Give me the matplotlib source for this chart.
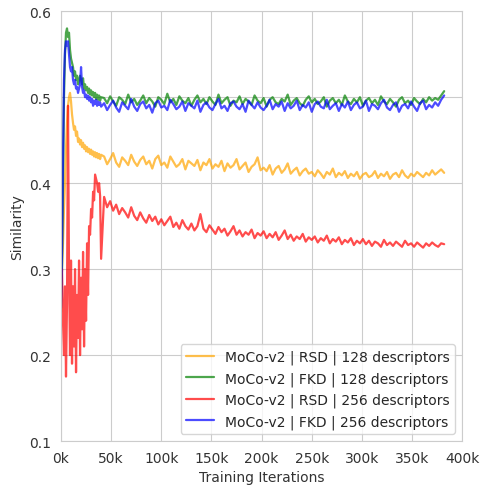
import matplotlib
matplotlib.use("Agg")
import matplotlib.pyplot as plt
import seaborn as sns
from matplotlib.ticker import FuncFormatter, MultipleLocator

# iterations in thousands
iters_k = list(range(0, 41)) + list(range(43, 383, 3))

rsd_128 = [0.27, 0.30, 0.33, 0.37, 0.40, 0.44, 0.47, 0.49, 0.50, 0.505,
           0.495, 0.48, 0.47, 0.462, 0.466, 0.455, 0.46, 0.448, 0.452, 0.445,
           0.45, 0.442, 0.447, 0.44, 0.444, 0.437, 0.442, 0.436, 0.44, 0.434,
           0.439, 0.433, 0.437, 0.431, 0.436, 0.43, 0.435, 0.429, 0.434, 0.428, 0.433,
           0.431, 0.422, 0.428, 0.435, 0.424, 0.419, 0.430, 0.426, 0.421, 0.433,
           0.425, 0.420, 0.427, 0.431, 0.422, 0.426, 0.417, 0.428, 0.432,
           0.421, 0.424, 0.418, 0.431, 0.425, 0.419, 0.422, 0.428, 0.416, 0.426,
           0.423, 0.420, 0.427, 0.415, 0.424, 0.421, 0.428,
           0.417, 0.422, 0.419, 0.426, 0.414, 0.423, 0.418, 0.421, 0.428, 0.416,
           0.420, 0.424, 0.413, 0.419, 0.422, 0.430, 0.415,
           0.418, 0.414, 0.421, 0.410, 0.417, 0.420, 0.412, 0.416, 0.423, 0.411,
           0.415, 0.418, 0.409, 0.414, 0.417, 0.411, 0.413,
           0.408, 0.415, 0.411, 0.406, 0.413, 0.410, 0.417, 0.407, 0.412, 0.409,
           0.414, 0.406, 0.411, 0.408, 0.413, 0.405, 0.410,
           0.412, 0.407, 0.409, 0.414, 0.406, 0.411, 0.408, 0.413, 0.405, 0.410,
           0.412, 0.407, 0.415, 0.409, 0.406, 0.411, 0.408, 0.413, 0.410, 0.407,
           0.412, 0.409, 0.415, 0.410, 0.413, 0.416, 0.412]

fkd_128 = [0.25, 0.30, 0.40, 0.50, 0.55, 0.575, 0.58, 0.57, 0.575, 0.555,
           0.545, 0.54, 0.535, 0.525, 0.53, 0.52, 0.525, 0.515, 0.52, 0.525,
           0.52, 0.515, 0.522, 0.51, 0.515, 0.508, 0.512, 0.505, 0.51, 0.503,
           0.508, 0.502, 0.506, 0.50, 0.505, 0.498, 0.503, 0.497, 0.502, 0.496, 0.50,
           0.499, 0.493, 0.501, 0.495, 0.490, 0.500, 0.497, 0.492, 0.503, 0.494,
           0.498, 0.491, 0.496, 0.502, 0.493, 0.499, 0.495, 0.489, 0.500, 0.497,
           0.492, 0.504, 0.494, 0.498, 0.491, 0.501, 0.496, 0.493, 0.499, 0.490,
           0.497, 0.502, 0.494, 0.498, 0.492, 0.500, 0.495, 0.491, 0.503, 0.493,
           0.497, 0.500, 0.490, 0.496, 0.494, 0.501, 0.492, 0.498, 0.495, 0.491,
           0.502, 0.496, 0.493, 0.499, 0.489, 0.497, 0.500, 0.494, 0.492, 0.498,
           0.495, 0.503, 0.491, 0.496, 0.499, 0.493, 0.490, 0.497, 0.501, 0.494,
           0.498, 0.492, 0.495, 0.500, 0.489, 0.496, 0.499, 0.493, 0.497, 0.491,
           0.502, 0.495, 0.492, 0.498, 0.494, 0.500, 0.490, 0.496, 0.499, 0.493,
           0.497, 0.491, 0.501, 0.495, 0.492, 0.498, 0.494, 0.489, 0.497, 0.500,
           0.493, 0.496, 0.491, 0.499, 0.495, 0.492, 0.498, 0.494, 0.500, 0.496,
           0.499, 0.497, 0.502, 0.507]

rsd_256 = [0.26, 0.30, 0.24, 0.20, 0.28, 0.175, 0.26, 0.49, 0.30, 0.20,
           0.31, 0.19, 0.28, 0.21, 0.30, 0.18, 0.27, 0.22, 0.31, 0.20,
           0.29, 0.23, 0.32, 0.21, 0.30, 0.24, 0.33, 0.27, 0.35, 0.34,
           0.37, 0.36, 0.39, 0.38, 0.41, 0.405, 0.40, 0.39, 0.40, 0.385, 0.312,
           0.384, 0.372, 0.379, 0.368, 0.375, 0.364, 0.371, 0.366, 0.360, 0.372,
           0.362, 0.357, 0.366, 0.359, 0.354, 0.363, 0.356, 0.361, 0.352,
           0.358, 0.351, 0.356, 0.361, 0.349, 0.354, 0.347, 0.357, 0.350, 0.346,
           0.353, 0.345, 0.350, 0.364, 0.347, 0.343, 0.351,
           0.346, 0.341, 0.349, 0.343, 0.347, 0.339, 0.344, 0.350, 0.340, 0.345,
           0.338, 0.343, 0.340, 0.346, 0.336, 0.342, 0.339,
           0.344, 0.336, 0.341, 0.337, 0.343, 0.334, 0.339, 0.345, 0.335, 0.340,
           0.333, 0.338, 0.335, 0.341, 0.332, 0.337, 0.334,
           0.338, 0.331, 0.336, 0.333, 0.339, 0.330, 0.335, 0.332, 0.337, 0.329,
           0.334, 0.331, 0.336, 0.328, 0.333, 0.330, 0.335,
           0.329, 0.333, 0.327, 0.332, 0.330, 0.326, 0.334, 0.328, 0.331, 0.327,
           0.332, 0.329, 0.326, 0.333, 0.328, 0.330, 0.326, 0.331, 0.328, 0.325,
           0.330, 0.327, 0.331, 0.328, 0.326, 0.330, 0.329]

fkd_256 = [0.255, 0.32, 0.43, 0.52, 0.555, 0.565, 0.56, 0.565, 0.55, 0.535,
           0.53, 0.535, 0.52, 0.515, 0.52, 0.51, 0.512, 0.505, 0.51, 0.515,
           0.535, 0.512, 0.505, 0.508, 0.50, 0.503, 0.498, 0.502, 0.496, 0.50,
           0.494, 0.498, 0.49, 0.496, 0.492, 0.497, 0.49, 0.495, 0.491, 0.494, 0.489,
           0.493, 0.485, 0.491, 0.496, 0.488, 0.483, 0.494, 0.490, 0.486, 0.498,
           0.489, 0.484, 0.492, 0.495, 0.487, 0.491, 0.482, 0.493, 0.496, 0.488,
           0.490, 0.485, 0.497, 0.492, 0.486, 0.489, 0.495, 0.484, 0.493, 0.490,
           0.487, 0.496, 0.483, 0.491, 0.494, 0.488, 0.485, 0.492, 0.498, 0.487,
           0.490, 0.484, 0.493, 0.495, 0.489, 0.486, 0.492, 0.483, 0.496, 0.491,
           0.487, 0.494, 0.488, 0.485, 0.490, 0.497, 0.486, 0.492, 0.489, 0.495,
           0.484, 0.493, 0.487, 0.490, 0.496, 0.485, 0.491, 0.488, 0.494, 0.483,
           0.492, 0.495, 0.489, 0.487, 0.497, 0.486, 0.490, 0.493, 0.484, 0.492,
           0.488, 0.495, 0.485, 0.491, 0.494, 0.487, 0.489, 0.496, 0.484, 0.492,
           0.490, 0.486, 0.493, 0.497, 0.488, 0.485, 0.491, 0.494, 0.483, 0.490,
           0.492, 0.487, 0.495, 0.489, 0.484, 0.493, 0.496, 0.486, 0.491, 0.488,
           0.494, 0.490, 0.497, 0.502]

labels = ["MoCo-v2 | RSD | 128 descriptors",
          "MoCo-v2 | FKD | 128 descriptors",
          "MoCo-v2 | RSD | 256 descriptors",
          "MoCo-v2 | FKD | 256 descriptors"]
colors = ["orange", "green", "red", "blue"]

sns.set_style("whitegrid")
plt.rcParams['font.family'] = ['DejaVu Sans']

iters = [k * 1000 for k in iters_k]

fig = plt.figure(figsize=(4.84, 4.89), dpi=100)
ax = fig.add_axes([0.126, 0.096, 0.829, 0.879])
for ys, lab, c in zip([rsd_128, fkd_128, rsd_256, fkd_256], labels, colors):
    ax.plot(iters, ys, color=c, alpha=0.7, lw=1.6, label=lab)

ax.set_xlim(0, 400000)
ax.set_ylim(0.1, 0.6)
ax.xaxis.set_major_locator(MultipleLocator(50000))
ax.xaxis.set_major_formatter(FuncFormatter(lambda v, p: f"{int(v/1000)}k"))
ax.yaxis.set_major_locator(MultipleLocator(0.1))
ax.yaxis.set_major_formatter(FuncFormatter(lambda v, p: f"{v:.1f}"))
ax.tick_params(labelsize=10, colors="#333333")
ax.set_xlabel("Training Iterations", fontsize=10, color="#333333")
ax.set_ylabel("Similarity", fontsize=10, color="#333333")
for s in ax.spines.values():
    s.set_color("#cccccc")
ax.legend(loc="lower right", fontsize=10)

fig.savefig("out.png", dpi=100)
